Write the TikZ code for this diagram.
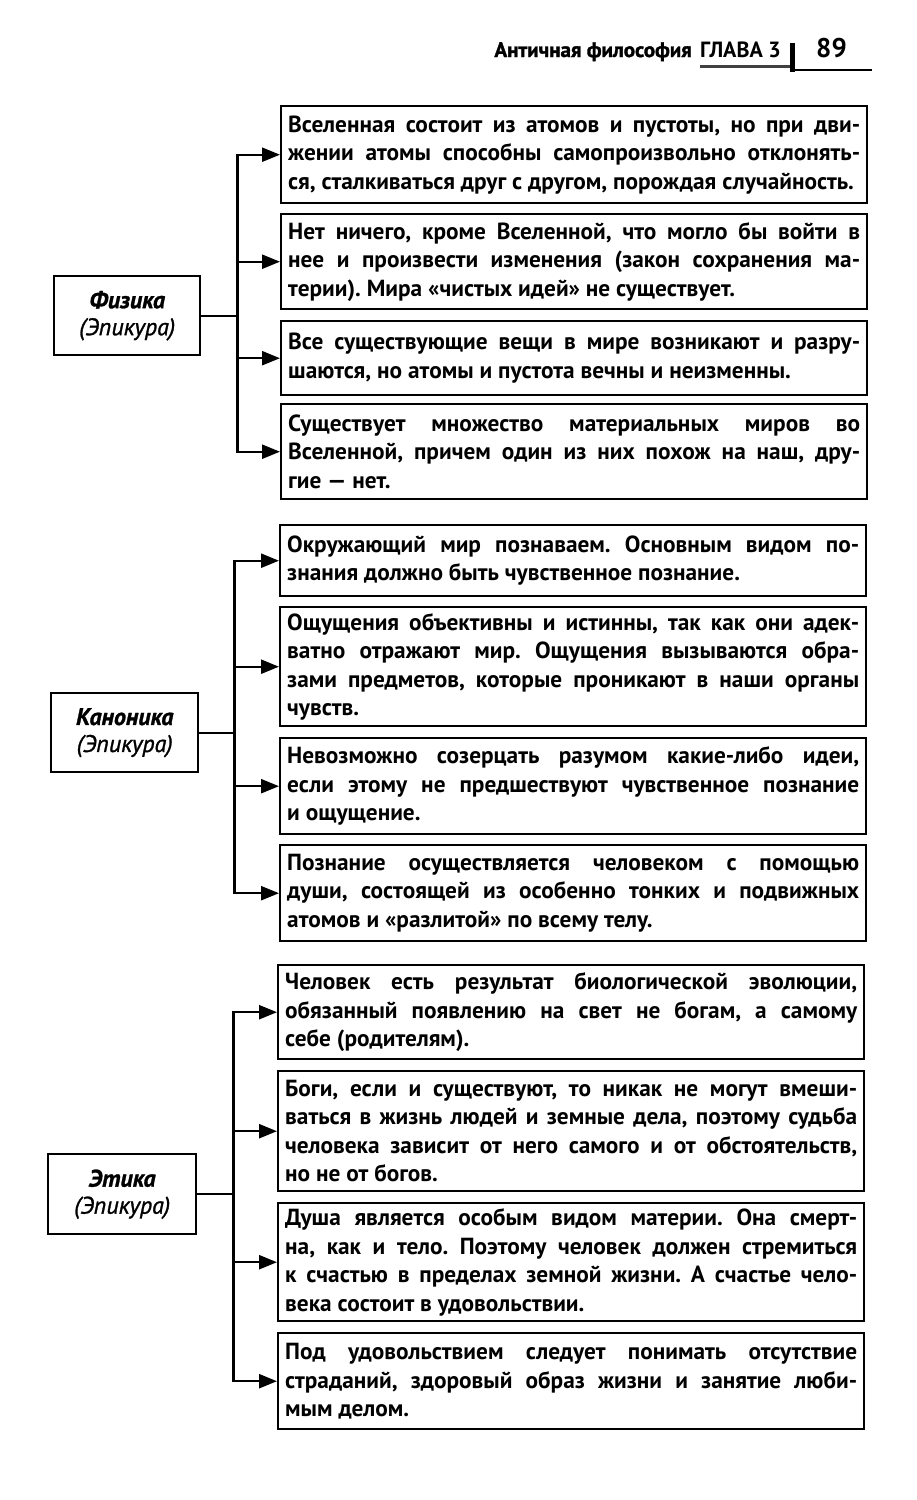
\documentclass[tikz,border=0pt]{standalone}
\usepackage{fontspec}
\setmainfont{PT Sans}
\usetikzlibrary{arrows.meta}

\tikzset{
    item/.style={draw, line width=2.4pt, anchor=north west, text width=572pt,
        inner xsep=7pt, inner ysep=0pt, align=justify,
        font=\bfseries\fontsize{23.3}{28.5}\selectfont},
    topic/.style={draw, line width=2.4pt, anchor=north west, align=center,
        inner sep=0pt, font=\itshape\fontsize{24}{27}\selectfont\addfontfeature{FakeBold=1.2}},
    link/.style={line width=2.4pt},
    arr/.style={line width=2.4pt, -{Triangle[length=18pt,width=14pt]}},
    head/.style={inner sep=0pt, font=\bfseries\fontsize{#1}{#1}\selectfont}
}

\begin{document}
\begin{tikzpicture}[x=1pt, y=-1pt]
    \hyphenpenalty=10000 \tolerance=10000 \frenchspacing
    \useasboundingbox (0,0) rectangle (917,1500);

    % Page header
    \node[head=21, anchor=base east] (subject) at (692,57) {\addfontfeature{FakeBold=1.5}Античная философия};
    \node[head=22, anchor=base west] (chapter) at (700,57) {ГЛАВА 3};
    \node[head=27, anchor=base west] (page) at (816,57) {89};
    \draw[line width=3pt, black!75] (700,66) -- (790,66);
    \draw[line width=5pt] (792,43) -- (792,72);
    \draw[line width=2.4pt] (792,70) -- (872,70);

    % Physics
    \node[topic, minimum width=146pt, minimum height=79pt] (phys) at (53,275) {\textbf{Физика}\\(Эпикура)};
    \node[item, minimum height=97pt] (phys1) at (280,105) {Вселенная состоит из атомов и пустоты, но при дви-\linebreak жении атомы способны самопроизвольно отклонять-\linebreak ся, сталкиваться друг с другом, порождая случайность.};
    \node[item, minimum height=95pt] (phys2) at (280,213) {Нет ничего, кроме Вселенной, что могло бы войти в\linebreak нее и произвести изменения (закон сохранения ма-\linebreak терии). Мира «чистых идей» не существует.};
    \node[item, minimum height=74pt] (phys3) at (280,320) {Все существующие вещи в мире возникают и разру-\linebreak шаются, но атомы и пустота вечны и неизменны.};
    \node[item, minimum height=95pt] (phys4) at (280,403) {Существует множество материальных миров во\linebreak Вселенной, причем один из них похож на наш, дру-\linebreak гие~— нет.};

    % Canonic
    \node[topic, minimum width=147pt, minimum height=79pt] (canon) at (50,692) {\textbf{Каноника}\\(Эпикура)};
    \node[item, minimum height=71pt] (canon1) at (279,524) {Окружающий мир познаваем. Основным видом по-\linebreak знания должно быть чувственное познание.};
    \node[item, minimum height=119pt] (canon2) at (279,606) {Ощущения объективны и истинны, так как они адек-\linebreak ватно отражают мир. Ощущения вызываются обра-\linebreak зами предметов, которые проникают в наши органы\linebreak чувств.};
    \node[item, minimum height=96pt] (canon3) at (279,737) {Невозможно созерцать разумом какие-либо идеи,\linebreak если этому не предшествуют чувственное познание\linebreak и ощущение.};
    \node[item, minimum height=96pt] (canon4) at (279,844) {Познание осуществляется человеком с помощью\linebreak души, состоящей из особенно тонких и подвижных\linebreak атомов и «разлитой» по всему телу.};

    % Ethics
    \node[topic, minimum width=148pt, minimum height=80pt] (eth) at (47,1153) {\textbf{Этика}\\(Эпикура)};
    \node[item, minimum height=94pt] (eth1) at (277,964) {Человек есть результат биологической эволюции,\linebreak обязанный появлению на свет не богам, а самому\linebreak себе (родителям).};
    \node[item, minimum height=120pt] (eth2) at (277,1070) {Боги, если и существуют, то никак не могут вмеши-\linebreak ваться в жизнь людей и земные дела, поэтому судьба\linebreak человека зависит от него самого и от обстоятельств,\linebreak но не от богов.};
    \node[item, minimum height=118pt] (eth3) at (277,1202) {Душа является особым видом материи. Она смерт-\linebreak на, как и тело. Поэтому человек должен стремиться\linebreak к счастью в пределах земной жизни. А счастье чело-\linebreak века состоит в удовольствии.};
    \node[item, minimum height=96pt] (eth4) at (277,1332) {Под удовольствием следует понимать отсутствие\linebreak страданий, здоровый образ жизни и занятие люби-\linebreak мым делом.};

    % Forks and arrows
    \coordinate (physfork) at ([xshift=36pt]phys.east);
    \coordinate (canonfork) at ([xshift=35pt]canon.east);
    \coordinate (ethfork) at ([xshift=36pt]eth.east);
    \foreach \g in {phys,canon,eth} {
        \draw[link] (\g) -- (\g fork);
        \foreach \i in {1,...,4}
            \draw[arr] (\g fork) |- (\g\i.west);
    }
\end{tikzpicture}
\end{document}
